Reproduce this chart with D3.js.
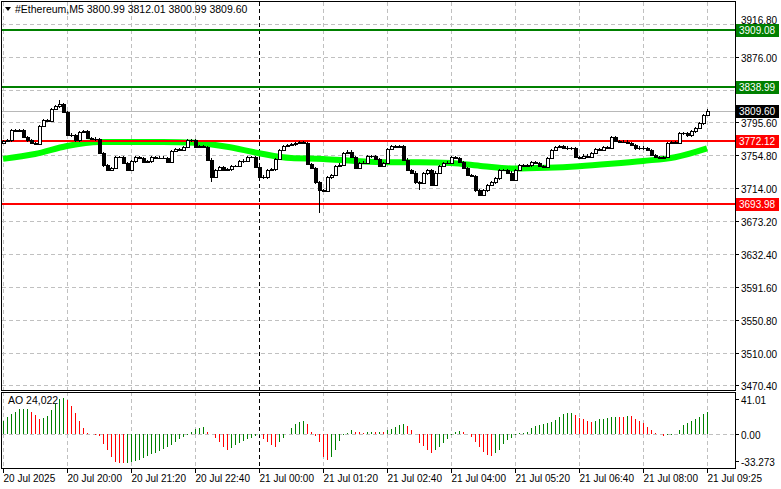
<!DOCTYPE html>
<html>
<head>
<meta charset="utf-8">
<script src="https://cdn.jsdelivr.net/npm/d3@7"></script>
<style>
  body { margin: 0; background: #fff; }
  text { font-family: "Liberation Sans", "DejaVu Sans", sans-serif; font-size: 10.5px; }
  .ax { font-size: 10px; }
</style>
</head>
<body>
<script>
	// Width and height of the picture
	var width = 781, height = 489;

	// closes of the 5 minute candles (open = previous close)
	var closes = [3772,3773,3786,3785,3786,3777,3773,3770,3769,3791,
		3798,3797,3812,3815,3818,3808,3780,3779,3773,3783,
		3784,3776,3775,3774,3757,3742,3736,3739,3752,3752,
		3745,3736,3747,3752,3751,3746,3747,3752,3751,3751.5,
		3751,3746,3760,3762,3761,3765,3773,3773.5,3765,3765.5,
		3765,3749,3728,3736,3740,3736,3737,3741,3741.5,3747,
		3748,3752,3752.5,3740,3728,3727,3736,3737,3750,3761,
		3766,3767,3768,3770,3770.5,3770,3744,3739,3721,3711,
		3710,3727,3730,3741,3743,3757,3759,3752,3739,3745,
		3745.5,3753,3753.5,3750,3741,3745,3762,3766,3765,3765.5,
		3749,3736,3733,3721,3720,3732,3736,3718,3733,3741,
		3745,3745.5,3752,3751,3746,3739,3730,3729,3711,3705,
		3711,3718,3721,3726,3736,3736.5,3733,3724,3736,3742,
		3741,3742,3746,3745,3741,3740,3751,3761,3765,3765.5,
		3764,3763,3763.5,3752,3751.5,3754,3752,3757,3762,3761,
		3765,3764,3777,3772,3771,3771.5,3770,3767,3763,3764,
		3763,3761,3755,3752,3751.5,3752,3770,3770.5,3770,3782,
		3781.5,3779,3784,3788,3794,3804,3809.6];
	var firstOpen = 3770;
	// long wicks: [index, high, low]
	var longWicks = [[14, 3823, null], [52, null, 3722], [79, null, 3683], [104, null, 3711], [176, 3812, null]];

	// green moving average, read every 8 bars
	var maIdx = [0,8,16,24,32,40,48,56,64,72,80,88,96,104,112,120,128,136,144,152,160,168,176];
	var maVal = [3750,3756,3766,3771,3771,3771,3770,3765,3757,3751,3750,3747.5,3746,3746,3745,3741,3738,3739,3741,3744,3747.5,3752,3763];

	// Awesome Oscillator bars
	var ao = [15,19,23,25,28,28.3,28.5,25,22,17,
		18,21,27,34,40,41,39,32,24,15,
		6.5,1.5,0.2,-0.7,-2,-10.6,-18,-26,-31.5,-32.6,
		-33.27,-32.6,-31.5,-30.4,-29,-27,-25,-23,-21,-19,
		-16.7,-14.4,-11.8,-8.7,-6,-3,-1,2.7,5.7,7.2,
		8.3,2.7,-0.3,-3.8,-8.7,-14.4,-17.5,-15.6,-12.5,-9.9,
		-8,-5.7,-3.8,-1.9,-1.1,-6,-8.7,-12.5,-14.4,-8.7,
		-3.8,0.3,6.5,11.4,13.3,14.8,11,2.7,-2.3,-8.7,
		-25.8,-29,-25.8,-17.5,-7.6,-1.1,0.8,4.6,2.7,1.9,
		1.5,1.9,2.3,1.9,2.7,2.5,4.6,5.3,8.4,10.3,
		11.4,9.1,4.6,0,-9.9,-13.7,-18.3,-21.3,-18.3,-14.4,
		-9.9,-6,-1.1,2.7,3.8,1.9,0,-3,-8.7,-14.4,
		-20,-24,-24.5,-21.3,-17.5,-11.4,-6.8,-3.8,-0.4,0.8,
		0.9,2.7,6.5,9.1,10.3,11.4,12.2,14,16,19.8,
		22.8,24.3,24.5,21.7,18.6,16.7,14.8,14,15.2,16.7,
		17.5,17.8,19,19.8,19.7,19.6,20.5,20.2,16.7,15.2,
		12.9,8.4,4.6,1.5,0,-2.3,-1.5,-0.4,0,4.6,
		10.3,12.9,15.2,16.7,19.8,22.8,25];

	// axis labels (3835.20 sits under the 3838.99 tag, so it is not written)
	var priceTicks = [3916.80,3876.00,3835.20,3795.60,3754.80,3714.00,3673.20,3632.40,3591.60,3550.80,3510.00,3470.40];
	var hiddenTicks = [3835.20];
	var timeIdx = [0,16,32,48,64,80,96,112,128,144,160,176];
	var timeLabels = ["20 Jul 2025","20 Jul 20:00","20 Jul 21:20","20 Jul 22:40","21 Jul 00:00","21 Jul 01:20",
		"21 Jul 02:40","21 Jul 04:00","21 Jul 05:20","21 Jul 06:40","21 Jul 08:00","21 Jul 09:25"];
	var greenLevels = [3909.08, 3838.99];
	var redLevels = [3772.12, 3693.98];
	var lastPrice = 3809.60;
	var aoTicks = [41.01, 0, -33.273];
	var aoTickLabels = ["41.01", "0.00", "-33.273"];

	var svg = d3.select("body").append("svg")
		.attr("width", width)
		.attr("height", height)
		.attr("shape-rendering", "crispEdges");

	var x = d3.scaleLinear().domain([0, 176]).range([3, 707]);
	var y = d3.scaleLinear().domain([3470.4, 3916.8]).range([385, 24]);
	var yAo = d3.scaleLinear().domain([-33.273, 41.01]).range([463.5, 398]);

	var gridColor = "#c0c0c0";

	// grid main panel
	svg.selectAll(".hgrid").data(priceTicks).enter().append("line")
		.attr("x1", 2).attr("x2", 735)
		.attr("y1", function(d) { return Math.round(y(d)) + 0.5; })
		.attr("y2", function(d) { return Math.round(y(d)) + 0.5; })
		.style("stroke", gridColor).style("stroke-dasharray", "4,3");
	timeIdx.forEach(function(i, k) {
		var xx = Math.round(x(i)) + 0.5;
		var isDay = (k == 4);
		[[2, 390], [392, 468]].forEach(function(r) {
			svg.append("line").attr("x1", xx).attr("x2", xx).attr("y1", r[0]).attr("y2", r[1])
				.style("stroke", isDay ? "#000" : gridColor).style("stroke-dasharray", "4,3");
		});
	});
	svg.append("line").attr("x1", 2).attr("x2", 735)
		.attr("y1", Math.round(yAo(0)) + 0.5).attr("y2", Math.round(yAo(0)) + 0.5)
		.style("stroke", gridColor).style("stroke-dasharray", "4,3");

	// last price line
	svg.append("line").attr("x1", 2).attr("x2", 735)
		.attr("y1", Math.round(y(lastPrice)) + 0.5).attr("y2", Math.round(y(lastPrice)) + 0.5)
		.style("stroke", "#b8b8b8");

	// moving average
	var ma = maIdx.map(function(d, i) { return [d, maVal[i]]; });
	svg.append("path").datum(ma)
		.attr("d", d3.line().x(function(d) { return x(d[0]); }).y(function(d) { return y(d[1]); }).curve(d3.curveMonotoneX))
		.attr("shape-rendering", "auto")
		.style("fill", "none").style("stroke", "#00ff00").style("stroke-width", 6);

	// level lines
	greenLevels.forEach(function(v) {
		svg.append("line").attr("x1", 2).attr("x2", 735).attr("y1", Math.round(y(v))).attr("y2", Math.round(y(v)))
			.style("stroke", "#008000").style("stroke-width", 2);
	});
	redLevels.forEach(function(v) {
		svg.append("line").attr("x1", 2).attr("x2", 735).attr("y1", Math.round(y(v))).attr("y2", Math.round(y(v)))
			.style("stroke", "#ff0000").style("stroke-width", 2);
	});

	// candles
	var candles = closes.map(function(c, i) {
		var o = i == 0 ? firstOpen : closes[i - 1];
		return { i: i, o: o, c: c, h: Math.max(o, c) + 1.5, l: Math.min(o, c) - 1.5 };
	});
	longWicks.forEach(function(w) {
		if (w[1] != null) candles[w[0]].h = w[1];
		if (w[2] != null) candles[w[0]].l = w[2];
	});
	var cg = svg.append("g");
	candles.forEach(function(d) {
		var cx = Math.round(x(d.i)) + 0.5;
		cg.append("line").attr("x1", cx).attr("x2", cx)
			.attr("y1", Math.round(y(d.h))).attr("y2", Math.round(y(d.l)))
			.style("stroke", "#000");
		var top = Math.round(y(Math.max(d.o, d.c))), bot = Math.round(y(Math.min(d.o, d.c)));
		if (bot - top < 1) {
			cg.append("line").attr("x1", cx - 2).attr("x2", cx + 2).attr("y1", top + 0.5).attr("y2", top + 0.5)
				.style("stroke", "#000");
		} else {
			cg.append("rect").attr("x", cx - 1.5).attr("y", top + 0.5).attr("width", 3).attr("height", bot - top)
				.style("fill", d.c >= d.o ? "#fff" : "#000").style("stroke", "#000");
		}
	});

	// AO bars
	svg.selectAll(".ao").data(ao).enter().append("line")
		.attr("x1", function(d, i) { return Math.round(x(i)) + 0.5; })
		.attr("x2", function(d, i) { return Math.round(x(i)) + 0.5; })
		.attr("y1", yAo(0))
		.attr("y2", function(d) { return yAo(d); })
		.style("stroke", function(d, i) { return (i == 0 || d >= ao[i - 1]) ? "#008000" : "#ff0000"; });

	// panel frames
	svg.append("rect").attr("x", 1.5).attr("y", 1.5).attr("width", 734).attr("height", 389)
		.style("fill", "none").style("stroke", "#000");
	svg.append("rect").attr("x", 1.5).attr("y", 392.5).attr("width", 734).attr("height", 76)
		.style("fill", "none").style("stroke", "#000");

	// price axis
	priceTicks.forEach(function(v, k) {
		var yy = Math.round(y(v)) + 0.5;
		svg.append("line").attr("x1", 736).attr("x2", 739).attr("y1", yy).attr("y2", yy).style("stroke", "#000");
		if (hiddenTicks.indexOf(v) < 0)
			svg.append("text").attr("class", "ax").attr("x", 741).attr("y", k == 0 ? yy - 1 : yy + 4).text(v.toFixed(2));
	});
	function tag(v, bg, fg) {
		var yy = Math.round(y(v));
		svg.append("rect").attr("x", 736).attr("y", yy - 6).attr("width", 43).attr("height", 13).style("fill", bg);
		svg.append("text").attr("class", "ax").attr("x", 739).attr("y", yy + 4).style("fill", fg).text(v.toFixed(2));
	}
	greenLevels.forEach(function(v) { tag(v, "#008000", "#fff"); });
	redLevels.forEach(function(v) { tag(v, "#ff0000", "#fff"); });
	tag(lastPrice, "#000", "#fff");

	// AO axis
	aoTicks.forEach(function(v, k) {
		var yy = Math.round(yAo(v)) + 0.5;
		if (k == 0) yy = 399.5;
		if (k == 2) yy = 461.5;
		svg.append("line").attr("x1", 736).attr("x2", 739).attr("y1", yy).attr("y2", yy).style("stroke", "#000");
		svg.append("text").attr("class", "ax").attr("x", 741).attr("y", yy + 4).text(aoTickLabels[k]);
	});
	svg.append("text").attr("x", 8).attr("y", 404).text("AO 24,022");

	// time axis
	timeIdx.forEach(function(i, k) {
		var xx = Math.round(x(i)) + 0.5;
		svg.append("line").attr("x1", xx).attr("x2", xx).attr("y1", 469).attr("y2", 473).style("stroke", "#000");
		svg.append("text").attr("class", "ax").attr("x", xx).attr("y", 482).text(timeLabels[k]);
	});

	// header
	svg.append("path").attr("d", "M5,7 L11,7 L8,11 Z").attr("shape-rendering", "auto").style("fill", "#000");
	svg.append("text").attr("x", 15).attr("y", 13).text("#Ethereum,M5  3800.99 3812.01 3800.99 3809.60");
</script>
</body>
</html>
